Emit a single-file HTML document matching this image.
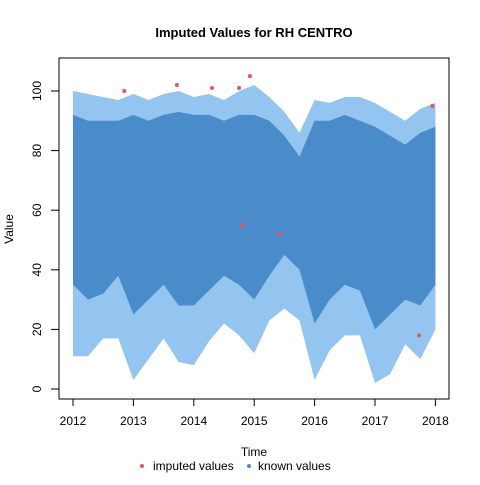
<!DOCTYPE html>
<html><head><meta charset="utf-8"><style>
body{margin:0;background:#fff;}
svg{font-family:"Liberation Sans",Arial,sans-serif;}
</style></head><body>
<svg width="480" height="480" viewBox="0 0 480 480">
<text x="254" y="37" text-anchor="middle" font-size="13" font-weight="bold">Imputed Values for  RH CENTRO</text>
<g id="plot"></g>
<rect x="59" y="58" width="390" height="341" fill="none" stroke="#000"/>
<g id="axes" font-size="12"></g>
<text x="254" y="456" text-anchor="middle" font-size="12">Time</text>
<text transform="translate(13,229) rotate(-90)" text-anchor="middle" font-size="12">Value</text>
<g font-size="12">
<circle cx="142" cy="466" r="2" fill="#e8555a"/>
<text x="153" y="470">imputed values</text>
<circle cx="249" cy="466" r="2" fill="#4a8cc9"/>
<text x="258" y="470">known values</text>
</g>
</svg>
<script>
const times=[2012,2012.25,2012.5,2012.75,2013,2013.25,2013.5,2013.75,2014,2014.25,2014.5,2014.75,2015,2015.25,2015.5,2015.75,2016,2016.25,2016.5,2016.75,2017,2017.25,2017.5,2017.75,2018];
const lows=[11,11,17,17,3,10,17,9,8,16,22,18,12,23,27,23,3,13,18,18,2,5,15,10,20];
const highs=[100,99,98,97,99,97,99,100,98,99,97,100,102,98,93,86,97,96,98,98,96,93,90,94,96];
const coreLows=[35,30,32,38,25,30,35,28,28,33,38,35,30,38,45,40,22,30,35,33,20,25,30,28,35];
const coreHighs=[92,90,90,90,92,90,92,93,92,92,90,92,92,90,85,78,90,90,92,90,88,85,82,86,88];
const impTimes=[2012.85,2013.72,2014.3,2014.75,2014.93,2014.8,2015.42,2017.73,2017.95];
const impVals=[100,102,101,101,105,55,52,18,95];
const xTicks=[2012,2013,2014,2015,2016,2017,2018];
const yTicks=[0,20,40,60,80,100];
const NS="http://www.w3.org/2000/svg";
function xs(t){return 73+(t-2012)*60.4;}
function ys(v){return 389-v*2.98;}
const plot=document.getElementById('plot'),axes=document.getElementById('axes');
function mk(tag,attrs,parent){const e=document.createElementNS(NS,tag);for(const k in attrs)e.setAttribute(k,attrs[k]);parent.appendChild(e);return e;}
function band(lo,hi){let p=times.map((t,i)=>xs(t)+','+ys(hi[i]));for(let i=times.length-1;i>=0;i--)p.push(xs(times[i])+','+ys(lo[i]));return p.join(' ');}
const outer=mk('polygon',{points:band(lows,highs),fill:'#5aa6e8','fill-opacity':'0.65'},plot);


const core=mk('polygon',{points:band(coreLows,coreHighs),fill:'#4a8cc9'},plot);


impTimes.forEach((t,i)=>{const c=mk('circle',{cx:xs(t),cy:ys(impVals[i]),r:2,fill:'#e8555a'},plot);

});
xTicks.forEach(t=>{mk('line',{x1:xs(t),x2:xs(t),y1:399,y2:406,stroke:'#000'},axes);
const l=mk('text',{x:xs(t),y:425,'text-anchor':'middle'},axes);l.textContent=t;

});
yTicks.forEach(v=>{mk('line',{x1:51,x2:59,y1:ys(v),y2:ys(v),stroke:'#000'},axes);
const l=mk('text',{transform:'translate(41,'+ys(v)+') rotate(-90)','text-anchor':'middle'},axes);l.textContent=v;

});
</script>
</body></html>
